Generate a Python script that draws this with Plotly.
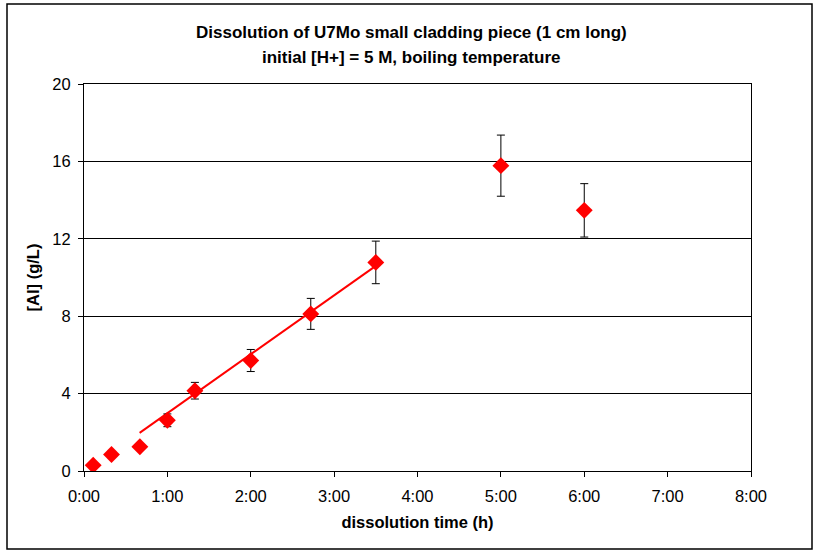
import plotly.graph_objects as go

# ---- data ----
time_h = [0.11, 0.33, 0.67, 1.0, 1.33, 2.0, 2.72, 3.5, 5.0, 6.0]
al_gL = [0.30, 0.85, 1.25, 2.62, 4.15, 5.71, 8.12, 10.78, 15.78, 13.47]
al_err = [0.03, 0.09, 0.13, 0.33, 0.43, 0.57, 0.80, 1.10, 1.58, 1.38]

trend_x = [0.667, 3.5]
trend_y = [1.97, 10.60]

x_tickvals = [0, 1, 2, 3, 4, 5, 6, 7, 8]
x_ticktext = ["0:00", "1:00", "2:00", "3:00", "4:00", "5:00", "6:00", "7:00", "8:00"]
y_tickvals = [0, 4, 8, 12, 16, 20]

title_lines = ["Dissolution of U7Mo small cladding piece (1 cm long)",
               "initial [H+] = 5 M, boiling temperature"]

FONT = "Liberation Sans, Arial, sans-serif"
FS = 16.5

fig = go.Figure()

fig.add_trace(go.Scatter(
    x=trend_x, y=trend_y, mode="lines",
    line=dict(color="#FF0000", width=2),
    showlegend=False, hoverinfo="skip"))

fig.add_trace(go.Scatter(
    x=time_h, y=al_gL, mode="markers",
    marker=dict(symbol="diamond", size=13, color="#FF0000", line=dict(width=0)),
    error_y=dict(type="data", array=al_err, visible=True,
                 color="black", thickness=1, width=4),
    showlegend=False))

W, H = 815, 553
L, R, T, B = 84, 64, 84, 82
pw, ph = W - L - R, H - T - B

def px_to_paper_x(px):
    return (px - L) / pw

def px_to_paper_y(py):
    return (H - B - py) / ph

annotations = []
for txt, ypx in zip(title_lines, [33, 57]):
    annotations.append(dict(
        text="<b>" + txt + "</b>", xref="paper", yref="paper",
        x=px_to_paper_x(411), y=px_to_paper_y(ypx),
        xanchor="center", yanchor="middle", showarrow=False,
        font=dict(family=FONT, size=17, color="black")))

shapes = [dict(type="rect", xref="paper", yref="paper",
               x0=px_to_paper_x(7), x1=px_to_paper_x(812),
               y0=px_to_paper_y(549), y1=px_to_paper_y(4),
               line=dict(color="black", width=1.5), layer="below")]

fig.update_layout(
    width=W, height=H,
    margin=dict(l=L, r=R, t=T, b=B, pad=0),
    paper_bgcolor="white", plot_bgcolor="white",
    font=dict(family=FONT, size=FS, color="black"),
    annotations=annotations, shapes=shapes,
    xaxis=dict(range=[0, 8], tickvals=x_tickvals, ticktext=x_ticktext,
               showgrid=False, zeroline=False,
               showline=True, linecolor="black", linewidth=1, mirror=True,
               ticks="outside", ticklen=5, tickcolor="black",
               ticklabelstandoff=5,
               tickfont=dict(family=FONT, size=FS),
               title=dict(text="<b>dissolution time (h)</b>",
                          font=dict(family=FONT, size=FS), standoff=12)),
    yaxis=dict(range=[0, 20], tickvals=y_tickvals,
               showgrid=True, gridcolor="black", gridwidth=1, zeroline=False,
               showline=True, linecolor="black", linewidth=1, mirror=True,
               ticks="outside", ticklen=5, tickcolor="black",
               ticklabelstandoff=4,
               tickfont=dict(family=FONT, size=FS),
               title=dict(text="<b>[Al] (g/L)</b>",
                          font=dict(family=FONT, size=FS), standoff=8)),
)

fig.write_html("out.html",
               config={"displayModeBar": False},
               post_script="document.body.style.margin='0';document.body.style.padding='0';")
